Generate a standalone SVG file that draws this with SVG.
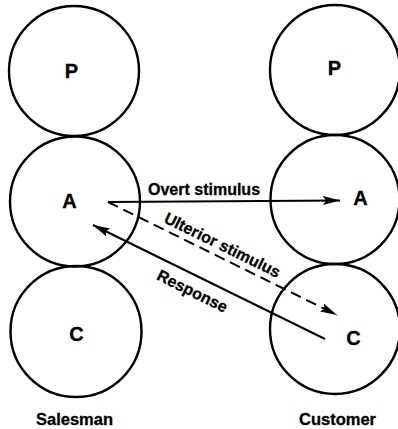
<svg xmlns="http://www.w3.org/2000/svg" width="398" height="429" viewBox="0 0 398 429">
<style>
.ring{fill:none;stroke:#000;stroke-width:2.4}
.lbl{font-family:"Liberation Sans",Arial,sans-serif;font-weight:bold;fill:#000;stroke:#000;stroke-width:0.3}
.big{font-size:20px;text-anchor:middle}
.cap{font-size:16.5px;text-anchor:middle}
.tag{font-size:16px}
.ln{stroke:#000;stroke-width:2;fill:none}
</style>
<defs>
<marker id="ah" markerUnits="userSpaceOnUse" markerWidth="18" markerHeight="10" refX="17" refY="4.5" orient="auto">
<path d="M0,0 L17,4.5 L0,9 L3,4.5 Z" fill="#000"/>
</marker>
</defs>
<rect width="398" height="429" fill="#fff"/>
<g id="salesman-P"><circle class="ring" cx="74" cy="71" r="65"/><text class="lbl big" x="71.5" y="78">P</text></g>
<g id="salesman-A"><circle class="ring" cx="75" cy="201.5" r="65"/><text class="lbl big" x="69.5" y="208">A</text></g>
<g id="salesman-C"><circle class="ring" cx="76" cy="331.5" r="65.5"/><text class="lbl big" x="76.5" y="341">C</text></g>
<g id="customer-P"><circle class="ring" cx="335" cy="70" r="65"/><text class="lbl big" x="334.5" y="75">P</text></g>
<g id="customer-A"><circle class="ring" cx="335" cy="199.5" r="64.5"/><text class="lbl big" x="360.5" y="205">A</text></g>
<g id="customer-C"><circle class="ring" cx="335" cy="329" r="65"/><text class="lbl big" x="353.5" y="345">C</text></g>
<g id="connectors">
<line class="ln" x1="108" y1="202" x2="340" y2="200.5" marker-end="url(#ah)"/>
<line class="ln" x1="108" y1="202" x2="337" y2="315" stroke-dasharray="11,6" marker-end="url(#ah)"/>
<line class="ln" x1="325" y1="339" x2="93" y2="225" marker-end="url(#ah)"/>
<text class="lbl tag" x="148" y="195">Overt stimulus</text>
<text class="lbl tag" text-anchor="middle" x="220" y="250" transform="rotate(26.2 220 250)">Ulterior stimulus</text>
<text class="lbl tag" text-anchor="middle" x="190" y="296" transform="rotate(26.2 190 296)">Response</text>
</g>
<g id="captions">
<text class="lbl cap" x="74.5" y="425">Salesman</text>
<text class="lbl cap" x="337.5" y="425">Customer</text>
</g>
</svg>
